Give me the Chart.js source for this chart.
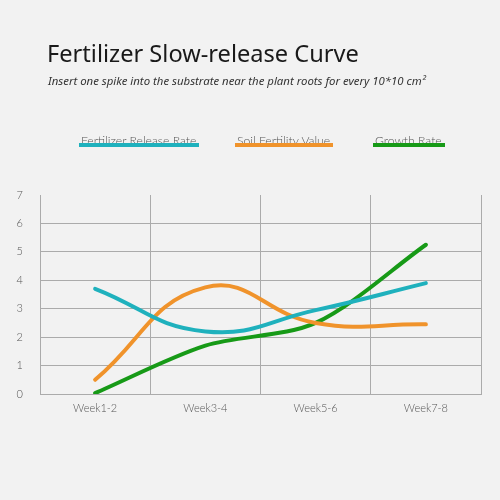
<!DOCTYPE html>
<html>
<head>
<meta charset="utf-8">
<script src="https://cdn.jsdelivr.net/npm/chart.js@4.4.1/dist/chart.umd.min.js"></script>
<style>
  html, body { margin: 0; padding: 0; background: #f2f2f2; }
  #wrap { position: relative; width: 500px; height: 500px; overflow: hidden; }
  #chart { position: absolute; left: 0; top: 0; }
  #title {
    position: absolute; left: 47px; top: 41px; margin: 0;
    font: 400 23.6px/24px "Noto Sans", sans-serif; color: #1a1a1a;
  }
  #subtitle {
    position: absolute; left: 48px; top: 75px; margin: 0;
    font: italic 400 11.4px/12px "Noto Sans", sans-serif; color: #333;
  }
  #legend { position: absolute; top: 134px; left: 0; width: 500px; height: 20px; }
  .item {
    position: absolute; top: 0; font: 300 12.2px/14px "Lato", sans-serif; color: #555;
    white-space: nowrap;
  }
  .item .bar { position: absolute; left: -2px; right: -3px; top: 9px; height: 4px; }
</style>
</head>
<body>
<div id="wrap">
  <canvas id="chart" width="500" height="500"></canvas>
  <h1 id="title">Fertilizer Slow-release Curve</h1>
  <p id="subtitle">Insert one spike into the substrate near the plant roots for every 10*10 cm²</p>
  <div id="legend"></div>
</div>
<script>
document.addEventListener('DOMContentLoaded', () => {

  /* ================= DATA ================= */

  const weeks = ['Week1-2', 'Week3-4', 'Week5-6', 'Week7-8'];

  const releaseRate = [3.7, 2.2, 2.95, 3.9];
  const soilFertility = [0.5, 3.75, 2.5, 2.45];
  const growthRate = [0.03, 1.7, 2.5, 5.25];

  const yTicks = [0, 1, 2, 3, 4, 5, 6, 7];

  const seriesNames = ['Fertilizer Release Rate', 'Soil Fertility Value', 'Growth Rate'];
  const seriesColors = ['#1fb1bd', '#f0932b', '#179a17'];
  const seriesTension = [0.45, 0.45, 0.3];

  // where each legend entry starts (x of the text)
  const legendX = [81, 237, 375];

  /* ================= CHART ================= */

  const gridColor = '#ababab';

  function makeSet(i, values) {
    return {
      label: seriesNames[i],
      data: values,
      borderColor: seriesColors[i],
      backgroundColor: seriesColors[i],
      borderWidth: 4,
      borderCapStyle: 'round',
      pointRadius: 0,
      tension: seriesTension[i],
      fill: false
    };
  }

  const chart = new Chart(document.getElementById('chart'), {
    type: 'line',
    data: {
      labels: weeks,
      datasets: [
        makeSet(0, releaseRate),
        makeSet(1, soilFertility),
        makeSet(2, growthRate)
      ]
    },
    options: {
      responsive: false,
      animation: false,
      layout: { padding: { top: 195, right: 19, left: 0, bottom: 0 } },
      plugins: {
        legend: { display: false },
        tooltip: { enabled: false }
      },
      scales: {
        x: {
          offset: true,
          grid: {
            offset: true,
            drawTicks: false,
            // no line on the far right
            color: ctx => ctx.index === weeks.length ? 'rgba(0,0,0,0)' : gridColor
          },
          border: { color: gridColor },
          ticks: {
            padding: 8,
            color: '#555',
            font: { family: 'Lato', size: 11, weight: 300 }
          },
          afterFit: axis => { axis.height = 106; }
        },
        y: {
          min: yTicks[0],
          max: yTicks[yTicks.length - 1],
          afterBuildTicks: axis => { axis.ticks = yTicks.map(v => ({ value: v })); },
          grid: {
            drawTicks: false,
            color: ctx => ctx.tick && ctx.tick.value === 7 ? 'rgba(0,0,0,0)' : gridColor
          },
          border: { color: gridColor },
          ticks: {
            padding: 17,
            color: '#555',
            font: { family: 'Lato', size: 11, weight: 300 }
          },
          afterFit: axis => { axis.width = 40; }
        }
      }
    }
  });

  /* ================= LEGEND ================= */

  const legend = document.getElementById('legend');
  chart.data.datasets.forEach((ds, i) => {
    const item = document.createElement('span');
    item.className = 'item';
    item.style.left = legendX[i] + 'px';
    item.textContent = ds.label;
    const bar = document.createElement('span');
    bar.className = 'bar';
    bar.style.background = ds.borderColor;
    item.appendChild(bar);
    legend.appendChild(item);
  });

});
</script>
</body>
</html>
